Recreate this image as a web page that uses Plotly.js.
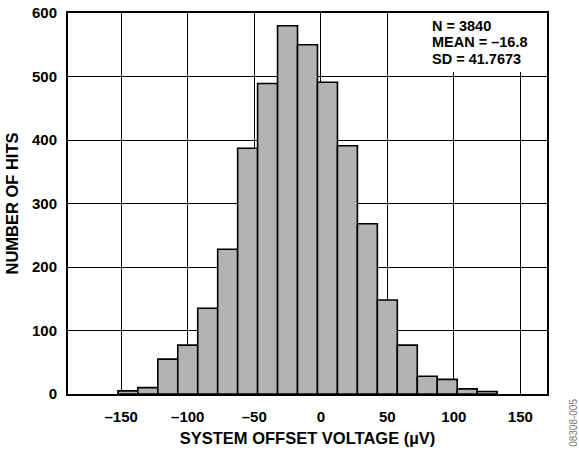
<!DOCTYPE html>
<html>
<head>
<meta charset="utf-8">
<script src="https://cdn.plot.ly/plotly-3.0.1.min.js"></script>
<style>html,body{margin:0;padding:0;background:#fff;}#chart{width:579px;height:453px;}</style>
</head>
<body>
<div id="chart"></div>
<script>
// Histogram bin centres (µV) and counts
const binCenters = [-145, -130, -115, -100, -85, -70, -55, -40, -25, -10, 5, 20, 35, 50, 65, 80, 95, 110, 125];
const hitCounts  = [5, 10, 55, 77, 135, 228, 387, 489, 580, 550, 491, 391, 268, 148, 77, 28, 23, 8, 4];
const binWidth = 15;

const xTickVals = [-150, -100, -50, 0, 50, 100, 150];
const xTickText = ['\u2013150', '\u2013100', '\u201350', '0', '50', '100', '150'];
const yTickVals = [0, 100, 200, 300, 400, 500, 600];

const statLines = ['N = 3840', 'MEAN = \u201316.8', 'SD = 41.7673'];
const figureId = '08308-005';

const fontFam = 'Liberation Sans, Arial, sans-serif';
const tickFont = {family: fontFam, size: 15, color: '#000', weight: 700};
const titleFont = {family: fontFam, size: 16.5, color: '#000', weight: 700};

const trace = {
  type: 'bar',
  x: binCenters,
  y: hitCounts,
  width: binCenters.map(() => binWidth),
  marker: {color: '#b3b3b3', line: {color: '#000', width: 1.6}},
  hoverinfo: 'x+y'
};

const annotations = statLines.map((t, i) => ({
  xref: 'paper', yref: 'paper',
  x: 0.757, y: 0.966 - i * 0.0433,
  xanchor: 'left', yanchor: 'middle',
  borderpad: 0,
  text: t, showarrow: false,
  font: {family: fontFam, size: 14.5, color: '#000', weight: 700}
}));
annotations.push({
  xref: 'paper', yref: 'paper',
  x: 1.054, y: 0.0,
  xanchor: 'center', yanchor: 'top',
  yshift: -3,
  text: figureId, showarrow: false, textangle: -90,
  font: {family: fontFam, size: 10, color: '#777'}
});

const layout = {
  width: 579, height: 453,
  margin: {l: 68, r: 32, t: 13, b: 58.5},
  paper_bgcolor: '#fff', plot_bgcolor: '#fff',
  showlegend: false,
  bargap: 0,
  xaxis: {
    range: [-190, 170],
    tickvals: xTickVals, ticktext: xTickText,
    ticks: '', ticklabelstandoff: 8,
    showgrid: true, gridcolor: '#000', gridwidth: 1,
    zeroline: false,
    showline: true, linecolor: '#000', linewidth: 2, mirror: true,
    tickfont: tickFont,
    title: {text: 'SYSTEM OFFSET VOLTAGE (\u00b5V)', font: titleFont, standoff: 8}
  },
  yaxis: {
    range: [0, 600],
    tickvals: yTickVals,
    ticks: '', ticklabelstandoff: 6,
    showgrid: true, gridcolor: '#000', gridwidth: 1,
    zeroline: false,
    showline: true, linecolor: '#000', linewidth: 2, mirror: true,
    tickfont: tickFont,
    title: {text: 'NUMBER OF HITS', font: titleFont, standoff: 9}
  },
  shapes: [{
    type: 'rect', xref: 'x', yref: 'y',
    x0: 80, x1: 170, y0: 507, y1: 600,
    fillcolor: '#fff', line: {width: 0}, layer: 'between'
  }],
  annotations: annotations
};

Plotly.newPlot('chart', [trace], layout, {displayModeBar: false, staticPlot: true});
</script>
</body>
</html>
